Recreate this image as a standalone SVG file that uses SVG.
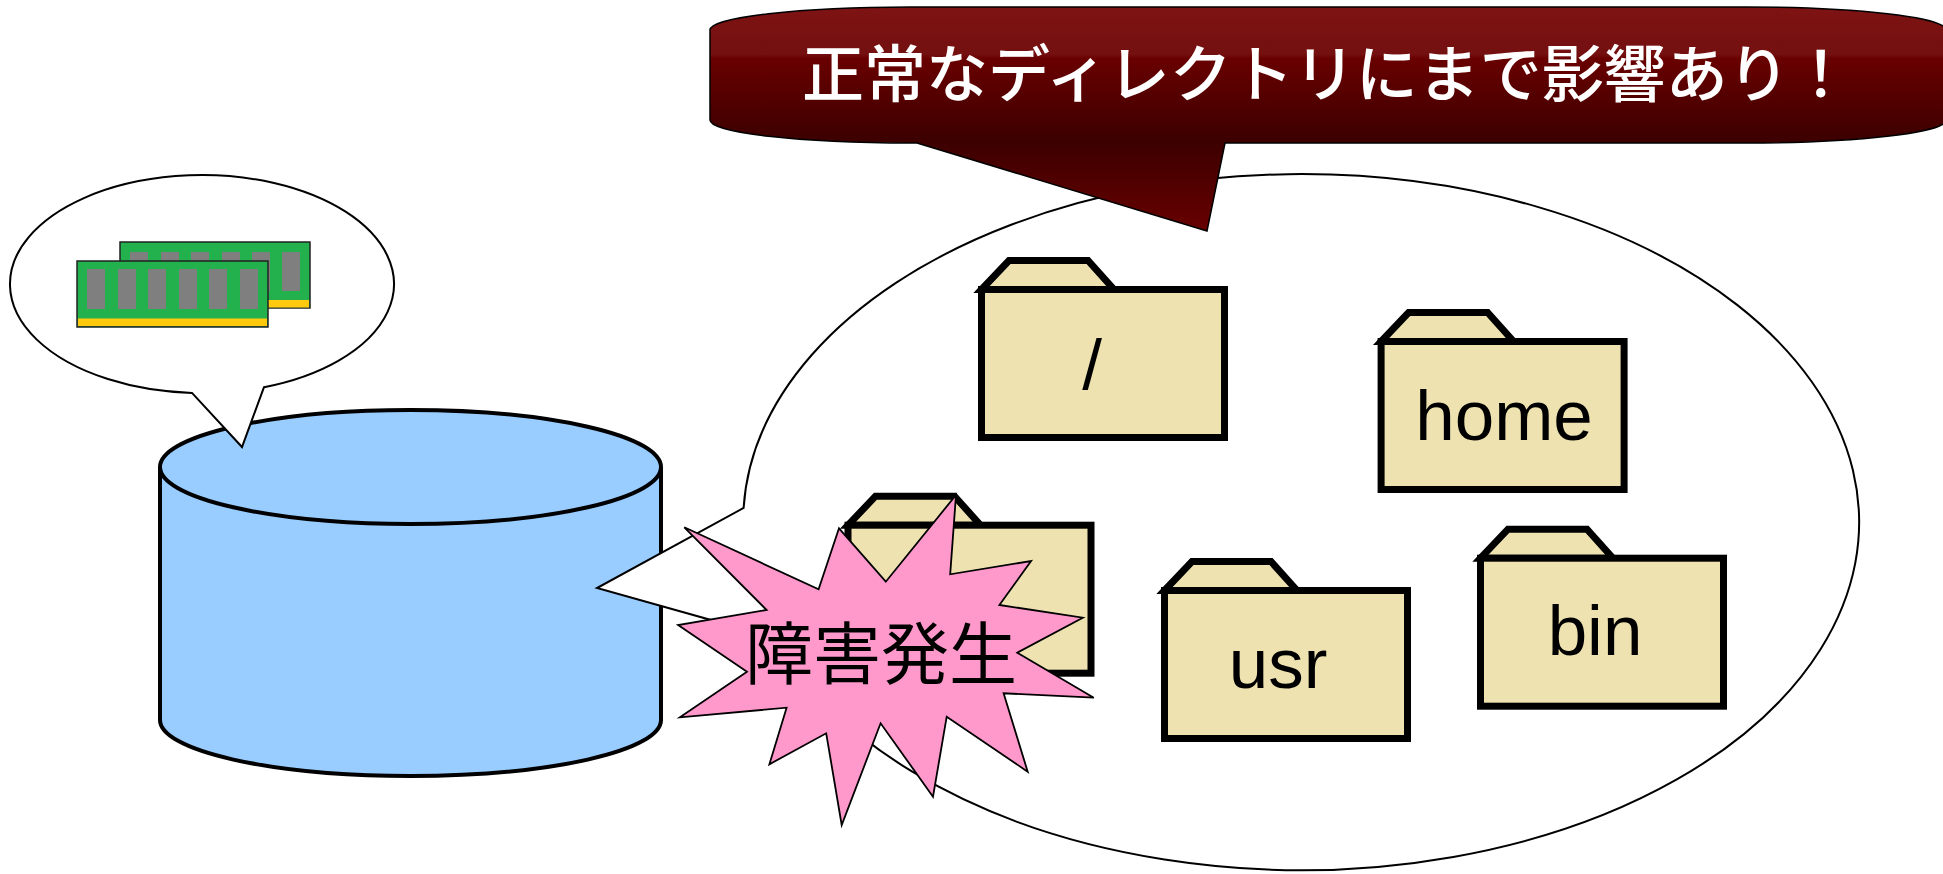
<svg xmlns="http://www.w3.org/2000/svg" xmlns:xlink="http://www.w3.org/1999/xlink" width="1943" height="874" viewBox="0 0 1943 874">
  <style>
    .bubble { fill: #ffffff; stroke: #000000; stroke-width: 2; stroke-linejoin: miter; }
    .cyl { fill: #99ccff; stroke: #000000; stroke-width: 4; }
    .tab, .fbody { fill: #eee3b0; stroke: #000000; stroke-width: 7; stroke-linejoin: miter; }
    .fname { font-family: "Liberation Sans", Arial, sans-serif; font-size: 71px; fill: #000000; text-anchor: middle; }
    .chip { fill: #22b14c; stroke: #222222; stroke-width: 1.5; }
    .pin { fill: #7f7f7f; }
    .gold { fill: #ffc90e; }
    .star { fill: #ff99cc; stroke: #000000; stroke-width: 1.8; stroke-linejoin: miter; }
    .jp { font-family: "Noto Sans CJK JP", "Noto Sans CJK SC", sans-serif; }
  </style>
  <defs>
    <linearGradient id="alertFill" gradientUnits="userSpaceOnUse" x1="0" y1="7" x2="0" y2="231">
      <stop offset="0" stop-color="#7e1313"/>
      <stop offset="0.21" stop-color="#741010"/>
      <stop offset="0.23" stop-color="#690000"/>
      <stop offset="0.6" stop-color="#3c0000"/>
      <stop offset="1" stop-color="#680000"/>
    </linearGradient>
    <g id="folder-shape">
      <path class="tab" d="M3.5,32.5 L31,3.5 L110,3.5 L136,32.5 Z"/>
      <rect class="fbody" x="3.5" y="32.5" width="243" height="148"/>
    </g>
  </defs>

  <!-- disk -->
  <g id="disk">
    <path class="cyl" d="M160,467 V720 A250.5,56 0 0 0 661,720 V467"/>
    <ellipse class="cyl" cx="410.5" cy="467" rx="250.5" ry="57"/>
  </g>

  <!-- memory callout -->
  <g id="memory-callout">
    <path class="bubble" d="M264,387.2 L242,447 L192,392.9 A192,109 0 1 1 264,387.2 Z"/>
    <g id="ram-back">
      <rect class="chip" x="120" y="242" width="190" height="66"/>
      <rect class="gold" x="121" y="300" width="188" height="7.5"/>
      <rect class="pin" x="130" y="252" width="18" height="39"/>
      <rect class="pin" x="161" y="252" width="18" height="39"/>
      <rect class="pin" x="191" y="252" width="18" height="39"/>
      <rect class="pin" x="222" y="252" width="18" height="39"/>
      <rect class="pin" x="252" y="252" width="18" height="39"/>
      <rect class="pin" x="282" y="252" width="18" height="39"/>
    </g>
    <g id="ram-front">
      <rect class="chip" x="77" y="261" width="191" height="66"/>
      <rect class="gold" x="78" y="318.5" width="189" height="7.5"/>
      <rect class="pin" x="87" y="269" width="18" height="40"/>
      <rect class="pin" x="118" y="269" width="18" height="40"/>
      <rect class="pin" x="148" y="269" width="18" height="40"/>
      <rect class="pin" x="179" y="269" width="18" height="40"/>
      <rect class="pin" x="209" y="269" width="18" height="40"/>
      <rect class="pin" x="240" y="269" width="18" height="40"/>
    </g>
  </g>

  <!-- directory tree callout -->
  <g id="directory-callout">
    <path class="bubble" d="M775,638 L597,588 L743.6,508 A558,348 0 1 1 775,638 Z"/>
  </g>

  <!-- folders -->
  <g id="folder-hidden" transform="translate(844.5,492.7)">
    <use xlink:href="#folder-shape" href="#folder-shape"/>
  </g>
  <g id="folder-root" transform="translate(978,257)">
    <use xlink:href="#folder-shape" href="#folder-shape"/>
    <text class="fname" x="114" y="132">/</text>
  </g>
  <g id="folder-home" transform="translate(1377.6,309)">
    <use xlink:href="#folder-shape" href="#folder-shape"/>
    <text class="fname" x="126.4" y="131">home</text>
  </g>
  <g id="folder-usr" transform="translate(1161,558)">
    <use xlink:href="#folder-shape" href="#folder-shape"/>
    <text class="fname" x="117" y="130">usr</text>
  </g>
  <g id="folder-bin" transform="translate(1477,525.7)">
    <use xlink:href="#folder-shape" href="#folder-shape"/>
    <text class="fname" x="118" y="129.3">bin</text>
  </g>

  <!-- failure burst -->
  <g id="failure">
    <polygon class="star" points="684.3,527.3 818.6,589.3 839,528.3 885.8,581.7 956,495 950.2,574.3 1031.1,561 999.4,605 1082.8,617.7 1017.3,652.7 1093.8,697.7 1003.6,693.3 1027.7,771.7 946.7,716.7 933,796.7 880.6,723.3 841.7,825 826.2,733.3 769.4,764.3 786.6,707.7 679.9,717.3 747,671.7 678.1,625 766.6,610"/>
    <text class="jp" x="881" y="679" font-size="68" text-anchor="middle" fill="#000000">障害発生</text>
  </g>

  <!-- alert callout -->
  <g id="alert-callout">
    <path d="M710,30 A200,23 0 0 1 910,7 L1746,7 A200,23 0 0 1 1946,30 L1946,120 A200,23 0 0 1 1746,143 L1225,143 L1207,231 L917,143 L910,143 A200,23 0 0 1 710,120 Z" fill="url(#alertFill)" stroke="#000000" stroke-width="1.5"/>
    <text class="jp" x="802" y="97" font-size="62" font-weight="500" fill="#ffffff">正常なディレクトリにまで影響あり！</text>
  </g>
</svg>
